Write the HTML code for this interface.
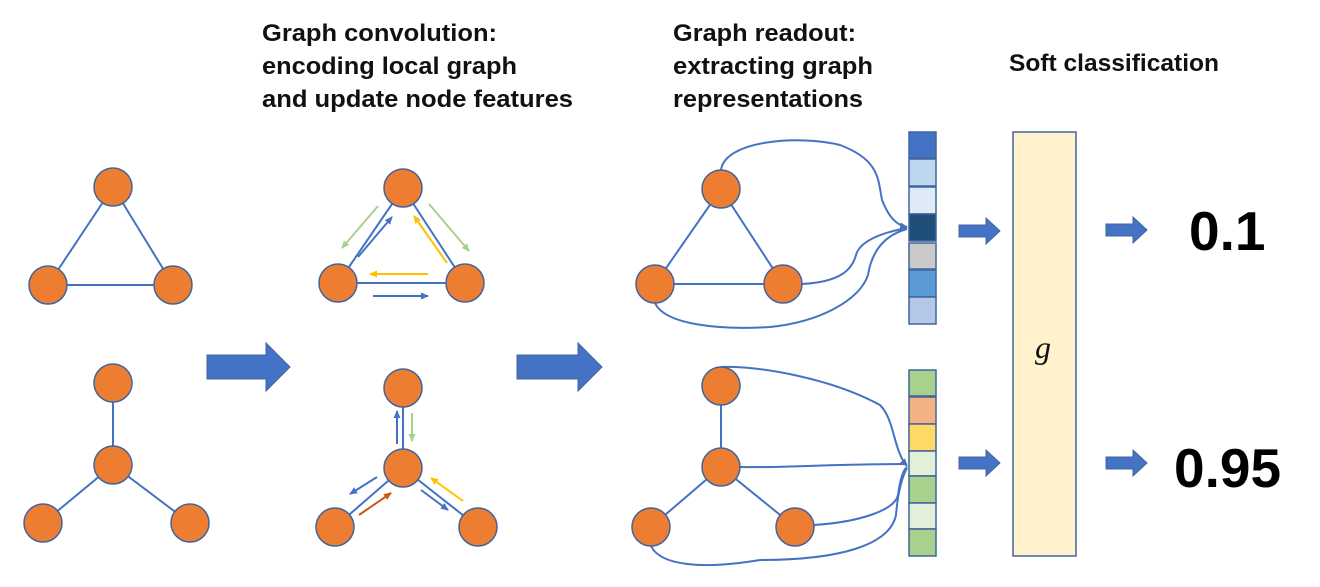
<!DOCTYPE html>
<html><head><meta charset="utf-8"><style>
html,body{margin:0;padding:0;background:#fff;}
svg{display:block;}
.t{font-family:"Liberation Sans",sans-serif;font-weight:bold;font-size:24px;fill:#111;}
</style></head><body>
<svg width="1320" height="587" viewBox="0 0 1320 587" xmlns="http://www.w3.org/2000/svg">
<defs>
<marker id="ab" markerWidth="8" markerHeight="8" refX="7" refY="4" orient="auto" markerUnits="userSpaceOnUse"><path d="M0,0.5 L8,4 L0,7.5z" fill="#4472C4"/></marker>
<marker id="ag" markerWidth="8" markerHeight="8" refX="7" refY="4" orient="auto" markerUnits="userSpaceOnUse"><path d="M0,0.5 L8,4 L0,7.5z" fill="#A9D18E"/></marker>
<marker id="ay" markerWidth="8" markerHeight="8" refX="7" refY="4" orient="auto" markerUnits="userSpaceOnUse"><path d="M0,0.5 L8,4 L0,7.5z" fill="#FFC000"/></marker>
<marker id="ar" markerWidth="8" markerHeight="8" refX="7" refY="4" orient="auto" markerUnits="userSpaceOnUse"><path d="M0,0.5 L8,4 L0,7.5z" fill="#C55A11"/></marker>
</defs>
<text class="t" x="262" y="41" textLength="235" lengthAdjust="spacingAndGlyphs">Graph convolution:</text>
<text class="t" x="262" y="74" textLength="255" lengthAdjust="spacingAndGlyphs">encoding local graph</text>
<text class="t" x="262" y="107" textLength="311" lengthAdjust="spacingAndGlyphs">and update node features</text>
<text class="t" x="673" y="41" textLength="183" lengthAdjust="spacingAndGlyphs">Graph readout:</text>
<text class="t" x="673" y="74" textLength="200" lengthAdjust="spacingAndGlyphs">extracting graph</text>
<text class="t" x="673" y="107" textLength="190" lengthAdjust="spacingAndGlyphs">representations</text>
<text class="t" x="1009" y="71" textLength="210" lengthAdjust="spacingAndGlyphs">Soft classification</text>

<g stroke="#4472C4" stroke-width="2" fill="none">
<path d="M113,187 L48,285 L173,285 Z"/>
<path d="M113,383 L113,465 L43,523 M113,465 L190,523"/>
<path d="M403,188 L338,283 L465,283 Z"/>
<path d="M403,388 L403,468 L335,527 M403,468 L478,527"/>
<path d="M721,189 L655,284 L783,284 Z"/>
<path d="M721,386 L721,467 L651,527 M721,467 L795,527"/>
<path d="M721,170 C725,140 800,135 840,145 C880,160 878,180 882,200 C888,215 895,225 907,227" marker-end="url(#ab)"/>
<path d="M802,284 C840,282 852,270 856,255 C860,240 885,232 907,228"/>
<path d="M655,303 C665,325 720,330 770,327 C820,322 860,300 868,275 C872,250 885,235 907,229"/>
<path d="M721,367 C760,366 830,378 880,405 C895,420 893,450 907,466" marker-end="url(#ab)"/>
<path d="M740,467 C790,468 820,464 907,464"/>
<path d="M814,525 C860,522 895,510 898,495 C900,480 903,470 907,467"/>
<path d="M651,546 C660,565 700,570 760,560 C840,560 890,545 896,515 C898,490 903,475 907,468"/>
</g>

<g stroke-width="2" fill="none">
<line x1="378" y1="206" x2="342" y2="248" stroke="#A9D18E" marker-end="url(#ag)"/>
<line x1="358" y1="257" x2="392" y2="217" stroke="#4472C4" marker-end="url(#ab)"/>
<line x1="429" y1="204" x2="469" y2="251" stroke="#A9D18E" marker-end="url(#ag)"/>
<line x1="447" y1="263" x2="414" y2="216" stroke="#FFC000" marker-end="url(#ay)"/>
<line x1="428" y1="274" x2="370" y2="274" stroke="#FFC000" marker-end="url(#ay)"/>
<line x1="373" y1="296" x2="428" y2="296" stroke="#4472C4" marker-end="url(#ab)"/>
<line x1="397" y1="444" x2="397" y2="411" stroke="#4472C4" marker-end="url(#ab)"/>
<line x1="412" y1="413" x2="412" y2="441" stroke="#A9D18E" marker-end="url(#ag)"/>
<line x1="377" y1="477" x2="350" y2="494" stroke="#4472C4" marker-end="url(#ab)"/>
<line x1="359" y1="515" x2="391" y2="493" stroke="#C55A11" marker-end="url(#ar)"/>
<line x1="421" y1="490" x2="448" y2="510" stroke="#4472C4" marker-end="url(#ab)"/>
<line x1="463" y1="501" x2="431" y2="478" stroke="#FFC000" marker-end="url(#ay)"/>
</g>

<g fill="#ED7D31" stroke="#41649E" stroke-width="1.5">
<circle cx="113" cy="187" r="19"/><circle cx="48" cy="285" r="19"/><circle cx="173" cy="285" r="19"/>
<circle cx="113" cy="383" r="19"/><circle cx="113" cy="465" r="19"/><circle cx="43" cy="523" r="19"/><circle cx="190" cy="523" r="19"/>
<circle cx="403" cy="188" r="19"/><circle cx="338" cy="283" r="19"/><circle cx="465" cy="283" r="19"/>
<circle cx="403" cy="388" r="19"/><circle cx="403" cy="468" r="19"/><circle cx="335" cy="527" r="19"/><circle cx="478" cy="527" r="19"/>
<circle cx="721" cy="189" r="19"/><circle cx="655" cy="284" r="19"/><circle cx="783" cy="284" r="19"/>
<circle cx="721" cy="386" r="19"/><circle cx="721" cy="467" r="19"/><circle cx="651" cy="527" r="19"/><circle cx="795" cy="527" r="19"/>
</g>

<g stroke="#41649E" stroke-width="1.5">
<rect x="909" y="132" width="27" height="26" fill="#4472C4"/>
<rect x="909" y="159" width="27" height="27" fill="#BDD7EE"/>
<rect x="909" y="187" width="27" height="27" fill="#DEEBF7"/>
<rect x="909" y="214" width="27" height="27" fill="#1F4E79"/>
<rect x="909" y="243" width="27" height="26" fill="#C9C9C9"/>
<rect x="909" y="270" width="27" height="27" fill="#5B9BD5"/>
<rect x="909" y="297" width="27" height="27" fill="#B4C7E7"/>
<rect x="909" y="370" width="27" height="26" fill="#A9D18E"/>
<rect x="909" y="397" width="27" height="27" fill="#F4B183"/>
<rect x="909" y="424" width="27" height="27" fill="#FFD966"/>
<rect x="909" y="451" width="27" height="25" fill="#E2F0D9"/>
<rect x="909" y="476" width="27" height="27" fill="#A9D18E"/>
<rect x="909" y="503" width="27" height="26" fill="#E2F0D9"/>
<rect x="909" y="529" width="27" height="27" fill="#A9D18E"/>
</g>

<g fill="#4472C4" stroke="#41649E" stroke-width="1">
<path d="M207,355 L266,355 L266,343 L290,367 L266,391 L266,379 L207,379 Z"/>
<path d="M517,355 L578,355 L578,343 L602,367 L578,391 L578,379 L517,379 Z"/>
<path d="M959,225 L986,225 L986,218 L1000,231 L986,244 L986,237 L959,237 Z"/>
<path d="M959,457 L986,457 L986,450 L1000,463 L986,476 L986,469 L959,469 Z"/>
<path d="M1106,224 L1133,224 L1133,217 L1147,230 L1133,243 L1133,236 L1106,236 Z"/>
<path d="M1106,457 L1133,457 L1133,450 L1147,463 L1133,476 L1133,469 L1106,469 Z"/>
</g>

<rect x="1013" y="132" width="63" height="424" fill="#FFF2CC" stroke="#41649E" stroke-width="1.5"/>
<text x="1043" y="358" text-anchor="middle" font-family="Liberation Serif,serif" font-style="italic" font-size="32" fill="#111">g</text>
<text x="1189" y="250" font-family="Liberation Sans,sans-serif" font-weight="bold" font-size="55" fill="#000">0.1</text>
<text x="1174" y="487" font-family="Liberation Sans,sans-serif" font-weight="bold" font-size="55" fill="#000">0.95</text>
</svg>
</body></html>
